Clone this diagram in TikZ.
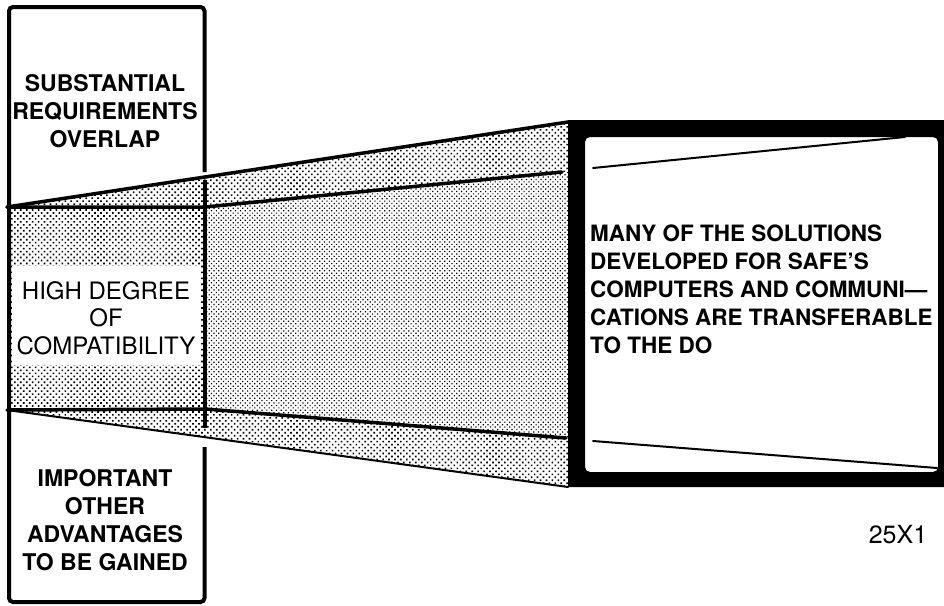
\documentclass[tikz,border=0pt]{standalone}
\usepackage{fontspec}
\setmainfont{TeX Gyre Heros}
\usetikzlibrary{patterns.meta}

\begin{document}
\begin{tikzpicture}[
        x=1pt, y=-1pt,
        label/.style={
            align=center,
            inner sep=0pt,
            font=\fontsize{23}{28}\selectfont\bfseries
        },
        boxline/.style={
            line width=4pt
        },
        thickline/.style={
            line width=3.5pt,
            line cap=round
        },
        thinline/.style={
            line width=2pt,
            line cap=round
        },
        coarse/.style={
            pattern={Dots[distance=4.2pt,radius=1.15pt,angle=45]}
        },
        fine/.style={
            pattern={Dots[distance=3.4pt,radius=0.85pt,angle=45]}
        }
    ]
        \clip (0,0) rectangle (944,605);

        % shaded funnel
        \path[coarse] (7,207) -- (568,122) -- (568,487) -- (7,410) -- cycle;
        \fill[white] (205,205) -- (568,172) -- (568,438) -- (205,408) -- cycle;
        \path[fine] (205,205) -- (568,172) -- (568,438) -- (205,408) -- cycle;
        \fill[white] (12,266) rectangle (200,365);

        \draw[thickline] (7,207) -- (568,122);
        \draw[thinline] (7,410) -- (568,487);
        \draw[thickline] (7,207) -- (205,207) -- (562,172);
        \draw[thickline] (7,410) -- (205,409) -- (566,438);

        % left column
        \draw[boxline, rounded corners=4pt] (204.5,172) -- (204.5,7) -- (9,7) -- (9,602) -- (204.5,602) -- (204.5,447);
        \draw[boxline] (204.5,180) -- (204.5,428);

        % right frame
        \fill[black, even odd rule] (568,120) rectangle (960,487)
            [rounded corners=5pt] (585,137) rectangle (938,472);
        \draw[thinline] (593,168) -- (905,137);
        \draw[thinline] (593,441) -- (937,468);

        \node[label] (overlap) at (105,111) {SUBSTANTIAL\\REQUIREMENTS\\OVERLAP};
        \node[label, font=\fontsize{24}{27.5}\selectfont] (compat) at (106,318) {HIGH DEGREE\\OF\\COMPATIBILITY};
        \node[label] (advantages) at (105,520) {IMPORTANT\\OTHER\\ADVANTAGES\\TO BE GAINED};
        \node[label, align=left, anchor=west, font=\fontsize{22.5}{28}\selectfont\bfseries] (solutions) at (590,289)
            {MANY OF THE SOLUTIONS\\DEVELOPED FOR SAFE'S\\COMPUTERS AND COMMUNI---\\CATIONS ARE TRANSFERABLE\\TO THE DO};
        \node[label, font=\fontsize{25}{30}\selectfont] (code) at (898,535) {25X1};
    \end{tikzpicture}
\end{document}
